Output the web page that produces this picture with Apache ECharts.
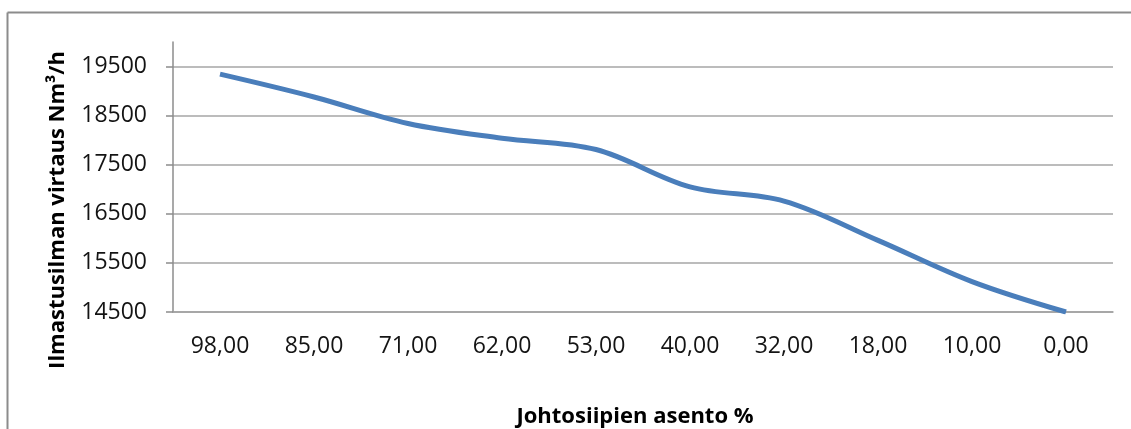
<!DOCTYPE html>
<html>
<head>
<meta charset="utf-8">
<script src="https://cdn.jsdelivr.net/npm/echarts@6/dist/echarts.min.js"></script>
<style>
html,body{margin:0;padding:0;background:#fff;}
#chart{width:1131px;height:429px;}
</style>
</head>
<body>
<div id="chart"></div>
<script>
const categories = ['98,00','85,00','71,00','62,00','53,00','40,00','32,00','18,00','10,00','0,00'];
const airflow = [19345, 18880, 18340, 18040, 17810, 17050, 16760, 15960, 15120, 14500];
const yMin = 14500, yMax = 20000, yStep = 1000;
const xTitle = 'Johtosiipien asento %';
const yTitle = 'Ilmastusilman virtaus Nm³/h';

const FONT = '"Open Sans", "Noto Sans", sans-serif';
const chart = echarts.init(document.getElementById('chart'), null, {renderer: 'canvas'});
chart.setOption({
  backgroundColor: '#fff',
  animation: false,
  grid: {left: 173, right: 18, top: 42, bottom: 117, containLabel: false, outerBoundsMode: 'none'},
  graphic: [
    {type: 'line', shape: {x1: 7.5, y1: 12.5, x2: 1131, y2: 12.5}, style: {stroke: '#8c8c8c', lineWidth: 2}},
    {type: 'line', shape: {x1: 7.5, y1: 12.5, x2: 7.5, y2: 429}, style: {stroke: '#8c8c8c', lineWidth: 2}}
  ],
  xAxis: {
    type: 'category',
    data: categories,
    boundaryGap: true,
    axisTick: {show: false},
    axisLine: {lineStyle: {color: '#a0a0a0', width: 1.5}},
    axisLabel: {color: '#141414', fontFamily: FONT, fontSize: 23, margin: 23, interval: 0},
    name: xTitle,
    nameLocation: 'middle',
    nameGap: 94,
    nameTextStyle: {color: '#000', fontFamily: FONT, fontSize: 22, fontWeight: 'bold', padding: [0, 16, 0, 0]}
  },
  yAxis: {
    type: 'value',
    min: yMin, max: yMax, interval: yStep,
    axisLine: {show: true, lineStyle: {color: '#8c8c8c', width: 1.5}},
    axisTick: {show: true, length: 7, lineStyle: {color: '#8c8c8c', width: 1.5}},
    axisLabel: {color: '#141414', fontFamily: FONT, fontSize: 23, margin: 26, showMaxLabel: false,
      formatter: function (v) { return String(v); }},
    splitLine: {show: true, showMaxLine: false, lineStyle: {color: '#a6a6a6', width: 1.5}},
    name: yTitle,
    nameLocation: 'middle',
    nameGap: 104,
    nameRotate: 90,
    nameTextStyle: {color: '#000', fontFamily: FONT, fontSize: 22, fontWeight: 'bold', padding: [0, 66, 0, 0]}
  },
  series: [{
    type: 'line',
    data: airflow,
    smooth: 0.35,
    symbol: 'none',
    lineStyle: {color: '#4a7ebb', width: 5},
    itemStyle: {color: '#4a7ebb'}
  }]
});
</script>
</body>
</html>
